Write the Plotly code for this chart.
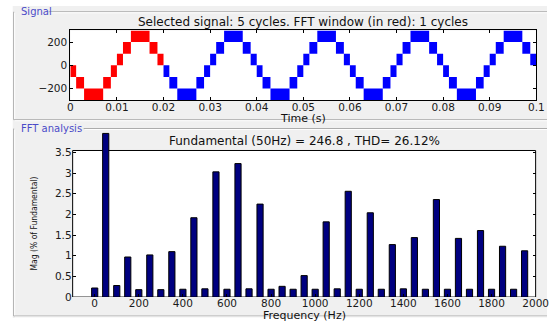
import plotly.graph_objects as go

W, H = 560, 324

# ---------------- Signal panel data ----------------
# One fundamental cycle of the multilevel output: each band is the region the
# PWM switches across (between two adjacent levels), edges in milliseconds.
band_edges_ms = [0.0, 1.25, 2.95, 7.05, 8.7, 10.0, 11.3, 13.0, 17.0, 18.7, 20.0]
band_floor = [-100, -200, -300, -200, -100, 0, 100, 200, 100, 0]
band_step = 100
cycle_starts = [0.0, 0.02, 0.04, 0.06, 0.08]
fft_window_cycles = 1

time_ticks = [0, 0.01, 0.02, 0.03, 0.04, 0.05, 0.06, 0.07, 0.08, 0.09, 0.1]
time_tick_text = ["0", "0.01", "0.02", "0.03", "0.04", "0.05", "0.06", "0.07", "0.08", "0.09", "0.1"]
signal_ticks = [-200, 0, 200]

# ---------------- FFT panel data ----------------
harm_freq = [0, 50, 100, 150, 200, 250, 300, 350, 400, 450,
             500, 550, 600, 650, 700, 750, 800, 850, 900, 950,
             1000, 1050, 1100, 1150, 1200, 1250, 1300, 1350, 1400, 1450,
             1500, 1550, 1600, 1650, 1700, 1750, 1800, 1850, 1900, 1950]
harm_mag = [0.22, 3.96, 0.28, 0.97, 0.18, 1.02, 0.18, 1.10, 0.19, 1.92,
            0.20, 3.03, 0.19, 3.23, 0.20, 2.25, 0.19, 0.26, 0.19, 0.52,
            0.19, 1.82, 0.20, 2.56, 0.19, 2.04, 0.19, 1.27, 0.20, 1.44,
            0.19, 2.36, 0.19, 1.42, 0.19, 1.61, 0.19, 1.23, 0.19, 1.12]
freq_ticks = [0, 200, 400, 600, 800, 1000, 1200, 1400, 1600, 1800, 2000]
mag_ticks = [0, 0.5, 1, 1.5, 2, 2.5, 3, 3.5]
mag_tick_text = ["0", "0.5", "1", "1.5", "2", "2.5", "3", "3.5"]
mag_frame_top = 3.547
mag_view_top = 4.0

fundamental_hz = 50
fundamental_mag = 246.8
thd_pct = 26.12


def px(x):
    return x / W


def py(y):
    return 1 - y / H


# build the band bars from the cycle table
sig_x, sig_w, sig_base, sig_h, sig_col = [], [], [], [], []
for ci, c0 in enumerate(cycle_starts):
    for i, fl in enumerate(band_floor):
        t0 = c0 + band_edges_ms[i] / 1000
        t1 = c0 + band_edges_ms[i + 1] / 1000
        sig_x.append((t0 + t1) / 2)
        sig_w.append(t1 - t0)
        sig_base.append(fl)
        sig_h.append(band_step)
        sig_col.append("#ff0000" if ci < fft_window_cycles else "#0000ff")

fig = go.Figure()
fig.add_trace(go.Bar(x=sig_x, y=sig_h, base=sig_base, width=sig_w,
                     marker=dict(color=sig_col, line=dict(width=0)),
                     xaxis="x", yaxis="y", showlegend=False))
fig.add_trace(go.Bar(x=harm_freq, y=harm_mag, width=28,
                     marker=dict(color="#000080", line=dict(color="#000000", width=1)),
                     xaxis="x2", yaxis="y2", showlegend=False))

tick_font = dict(family="DejaVu Sans", size=10.5, color="#1a1a1a")

# domains (pixel based)
top_x = [px(69.3), px(549)]
top_y = [py(102), py(31)]
bot_x = [px(71.7), px(548.3)]
bot_y0 = 302.7
unit_px = 42.11
bot_y = [py(bot_y0), py(bot_y0 - unit_px * mag_view_top)]
frame_top_paper = py(bot_y0 - unit_px * mag_frame_top)

axis_common = dict(showgrid=False, zeroline=False, ticks="inside", ticklen=3,
                   tickcolor="black", tickfont=tick_font)

fig.update_layout(
    width=W, height=H,
    margin=dict(l=0, r=0, t=0, b=0),
    paper_bgcolor="white",
    plot_bgcolor="rgba(0,0,0,0)",
    barmode="overlay",
    showlegend=False,
    xaxis=dict(domain=top_x, range=[0, 0.1], tickvals=time_ticks, ticktext=time_tick_text,
               anchor="y", showline=True, linecolor="black", linewidth=1, mirror="ticks",
               ticklabelstandoff=-3, **axis_common),
    yaxis=dict(domain=top_y, range=[-300, 300], tickvals=signal_ticks,
               anchor="x", showline=True, linecolor="black", linewidth=1, mirror="ticks",
               **axis_common),
    xaxis2=dict(domain=bot_x, range=[-100, 2000], tickvals=freq_ticks,
                anchor="y2", showline=False, ticklabelstandoff=-2, **axis_common),
    yaxis2=dict(domain=bot_y, range=[0, mag_view_top], tickvals=mag_ticks, ticktext=mag_tick_text,
                anchor="x2", showline=False, mirror="ticks", **axis_common),
    xaxis3=dict(overlaying="x2", anchor="free", position=frame_top_paper, side="top",
                range=[-100, 2000], tickvals=freq_ticks, showticklabels=False,
                showline=False, showgrid=False, zeroline=False, ticks="inside",
                ticklen=3, tickcolor="black"),
)

shapes = []
# window background and etched group-box borders
shapes.append(dict(type="rect", xref="paper", yref="paper", x0=px(10), x1=1, y0=0, y1=py(6),
                   fillcolor="#f0f0f0", line=dict(width=0), layer="below"))
for (x0, y0, x1, y1) in [(47, 12, 560, 12), (11, 12, 11, 122), (11, 122, 560, 122),
                         (83, 131, 560, 131), (11, 131, 11, 322), (11, 322, 560, 322)]:
    shapes.append(dict(type="line", xref="paper", yref="paper", x0=px(x0), x1=px(x1),
                       y0=py(y0), y1=py(y1), line=dict(color="#a8a8a8", width=1), layer="below"))
    shapes.append(dict(type="line", xref="paper", yref="paper", x0=px(x0 + 1), x1=px(x1 + 1),
                       y0=py(y0 + 1), y1=py(y1 + 1), line=dict(color="#ffffff", width=1), layer="below"))
# plotting areas
shapes.append(dict(type="rect", xref="x domain", yref="y domain", x0=0, x1=1, y0=0, y1=1,
                   fillcolor="white", line=dict(width=0), layer="below"))
shapes.append(dict(type="rect", xref="x2 domain", yref="y2", x0=0, x1=1, y0=0, y1=mag_frame_top,
                   fillcolor="white", line=dict(color="black", width=1), layer="below"))
fig.update_layout(shapes=shapes)

title_font = dict(family="DejaVu Sans", size=12, color="#111111")
label_font = dict(family="DejaVu Sans", size=11, color="#111111")
panel_font = dict(family="DejaVu Sans", size=10, color="#4b4bc8")
ann = [
    dict(text="Selected signal: %d cycles. FFT window (in red): %d cycles" % (len(cycle_starts), fft_window_cycles),
         x=(top_x[0] + top_x[1]) / 2, y=py(22.3), font=title_font),
    dict(text="Time (s)", x=(top_x[0] + top_x[1]) / 2, y=py(120.5), font=label_font),
    dict(text="Fundamental (%dHz) = %.1f , THD= %.2f%%" % (fundamental_hz, fundamental_mag, thd_pct),
         x=(bot_x[0] + bot_x[1]) / 2, y=py(144), font=title_font),
    dict(text="Frequency (Hz)", x=(bot_x[0] + bot_x[1]) / 2, y=py(321.5), font=label_font),
    dict(text="Mag (% of Fundamental)", x=px(31.7), y=py(228), textangle=-90,
         font=dict(family="DejaVu Sans Condensed, Liberation Sans", size=8.5, color="#111111")),
    dict(text="Signal", x=px(16), y=py(12), xanchor="left", font=panel_font),
    dict(text="FFT analysis", x=px(16), y=py(131), xanchor="left", font=panel_font),
]
for a in ann:
    a.setdefault("xanchor", "center")
    a.update(xref="paper", yref="paper", yanchor="middle", showarrow=False)
fig.update_layout(annotations=ann)

fig.write_html("out.html")
